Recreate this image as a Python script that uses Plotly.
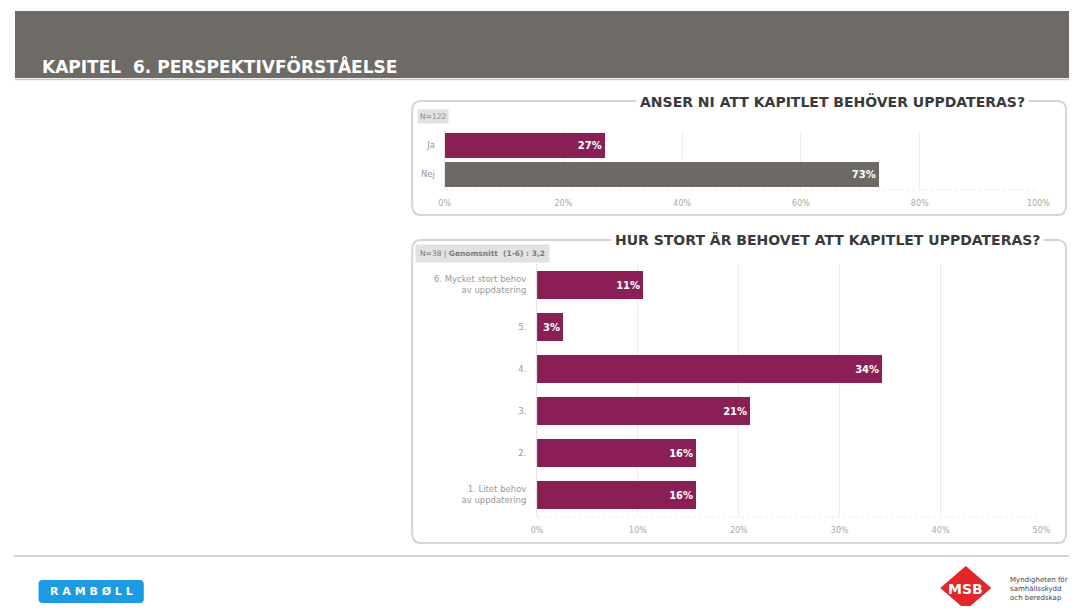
import plotly.graph_objects as go

# page body has an 8px default margin on every side; keep the figure inside the window
OFF = 8
W, H = 1089 - 2 * OFF, 614 - 2 * OFF

# ---- data ----
q1_categories = ["Ja", "Nej"]
q1_values = [27, 73]
q1_labels = ["27%", "73%"]

q2_categories = ["6. Mycket stort behov<br>av uppdatering", "5.", "4.", "3.", "2.",
                 "1. Litet behov<br>av uppdatering"]
q2_values = [10.5, 2.6, 34.2, 21.1, 15.8, 15.8]
q2_labels = ["11%", "3%", "34%", "21%", "16%", "16%"]

x1_ticks = [0, 20, 40, 60, 80, 100]
x1_ticktext = ["0%", "20%", "40%", "60%", "80%", "100%"]
x2_ticks = [0, 10, 20, 30, 40, 50]
x2_ticktext = ["0%", "10%", "20%", "30%", "40%", "50%"]

PURPLE = "#8a1f56"
GREY = "#6d6a65"
FONT = "DejaVu Sans"


def px(x):
    return (x - OFF) / W


def py(y):
    return 1 - (y - OFF) / H


def rounded_rect(x0, y0, x1, y1, r):
    pts = [
        f"M {px(x0 + r)},{py(y0)}",
        f"L {px(x1 - r)},{py(y0)}",
        f"Q {px(x1)},{py(y0)} {px(x1)},{py(y0 + r)}",
        f"L {px(x1)},{py(y1 - r)}",
        f"Q {px(x1)},{py(y1)} {px(x1 - r)},{py(y1)}",
        f"L {px(x0 + r)},{py(y1)}",
        f"Q {px(x0)},{py(y1)} {px(x0)},{py(y1 - r)}",
        f"L {px(x0)},{py(y0 + r)}",
        f"Q {px(x0)},{py(y0)} {px(x0 + r)},{py(y0)}",
        "Z",
    ]
    return " ".join(pts)


fig = go.Figure()

fig.add_trace(go.Bar(
    x=q1_values, y=q1_categories, orientation="h",
    marker=dict(color=[PURPLE, GREY], line=dict(width=0)),
    width=0.83,
    text=q1_labels, textposition="inside", insidetextanchor="end",
    textfont=dict(family=FONT, size=10, color="white", weight="bold"),
    constraintext="none",
    xaxis="x", yaxis="y", hoverinfo="skip",
))

fig.add_trace(go.Bar(
    x=q2_values, y=q2_categories, orientation="h",
    marker=dict(color=PURPLE, line=dict(width=0)),
    width=0.67,
    text=q2_labels, textposition="inside", insidetextanchor="end",
    textfont=dict(family=FONT, size=10, color="white", weight="bold"),
    constraintext="none",
    xaxis="x2", yaxis="y2", hoverinfo="skip",
))

axis_common = dict(
    showgrid=True, gridcolor="#ececec", gridwidth=1,
    zeroline=False, showline=False,
    tickfont=dict(family=FONT, size=8, color="#a8a8a8"),
    ticks="outside", ticklen=6, tickcolor="rgba(0,0,0,0)",
    tickmode="array", fixedrange=True,
)

yaxis_common = dict(
    autorange="reversed", showgrid=False, zeroline=False, showline=True,
    linecolor="#e6e6e6", ticks="outside", tickcolor="rgba(0,0,0,0)",
    tickfont=dict(family=FONT, size=8.5, color="#999999"), fixedrange=True,
)

fig.update_layout(
    width=W, height=H,
    margin=dict(l=0, r=0, t=0, b=0),
    paper_bgcolor="white", plot_bgcolor="rgba(0,0,0,0)",
    showlegend=False,
    bargap=0,
    xaxis=dict(domain=[px(446), px(1050)], range=[0, 100], tickvals=x1_ticks,
               ticktext=x1_ticktext, anchor="y", **axis_common),
    yaxis=dict(domain=[py(189), py(131)], anchor="x", ticklen=7, **yaxis_common),
    xaxis2=dict(domain=[px(540), px(1053)], range=[0, 50], tickvals=x2_ticks,
                ticktext=x2_ticktext, anchor="y2", **axis_common),
    yaxis2=dict(domain=[py(516), py(264)], anchor="x2", ticklen=8, **yaxis_common),
)

RIGHT = OFF + W  # right edge of the figure in page pixels

shapes = []
# header band
shapes.append(dict(type="rect", xref="paper", yref="paper",
                   x0=px(9), x1=px(RIGHT), y0=py(78), y1=py(11),
                   fillcolor="#6e6b66", line=dict(width=0), layer="below"))
shapes.append(dict(type="line", xref="paper", yref="paper",
                   x0=px(9), x1=px(RIGHT), y0=py(79.5), y1=py(79.5),
                   line=dict(color="#c9c8c0", width=1.5), layer="below"))
# chart boxes
shapes.append(dict(type="path", xref="paper", yref="paper",
                   path=rounded_rect(413, 101, 1078, 215, 9),
                   line=dict(color="#d4d4d4", width=2), layer="below"))
shapes.append(dict(type="path", xref="paper", yref="paper",
                   path=rounded_rect(413, 240, 1078, 543, 9),
                   line=dict(color="#d4d4d4", width=2), layer="below"))
# baselines below plots
shapes.append(dict(type="line", xref="paper", yref="paper",
                   x0=px(446), x1=px(1050), y0=py(190), y1=py(190),
                   line=dict(color="#ececec", width=1, dash="dot"), layer="below"))
shapes.append(dict(type="line", xref="paper", yref="paper",
                   x0=px(540), x1=px(1053), y0=py(517), y1=py(517),
                   line=dict(color="#ececec", width=1, dash="dot"), layer="below"))
# footer line
shapes.append(dict(type="line", xref="paper", yref="paper",
                   x0=px(8), x1=px(RIGHT), y0=py(556), y1=py(556),
                   line=dict(color="#c4c4c4", width=1.5), layer="below"))
# Ramboll logo box
shapes.append(dict(type="path", xref="paper", yref="paper",
                   path=rounded_rect(33, 580, 140, 603, 4),
                   fillcolor="#1d9be2", line=dict(width=0), layer="below"))
# MSB logo diamond
msb_cx, msb_cy, msb_r = 976, 588, 22
shapes.append(dict(type="path", xref="paper", yref="paper",
                   path=(f"M {px(msb_cx)},{py(msb_cy - msb_r)} "
                         f"L {px(msb_cx + msb_r + 4)},{py(msb_cy)} "
                         f"L {px(msb_cx)},{py(msb_cy + msb_r)} "
                         f"L {px(msb_cx - msb_r - 4)},{py(msb_cy)} Z"),
                   fillcolor="#e3262a", line=dict(width=0), layer="below"))
fig.update_layout(shapes=shapes)

ann = []
ann.append(dict(text="KAPITEL  6. PERSPEKTIVFÖRSTÅELSE", xref="paper", yref="paper",
                x=px(34), y=py(66), xanchor="left", yanchor="middle", showarrow=False,
                font=dict(family=FONT, size=17, color="white", weight="bold")))
ann.append(dict(text="ANSER NI ATT KAPITLET BEHÖVER UPPDATERAS?", xref="paper", yref="paper",
                x=px(840), y=py(101), xanchor="center", yanchor="middle", showarrow=False,
                bgcolor="white", borderpad=3,
                font=dict(family=FONT, size=14, color="#3a3a3a", weight="bold")))
ann.append(dict(text="HUR STORT ÄR BEHOVET ATT KAPITLET UPPDATERAS?", xref="paper", yref="paper",
                x=px(835), y=py(240), xanchor="center", yanchor="middle", showarrow=False,
                bgcolor="white", borderpad=3,
                font=dict(family=FONT, size=14, color="#3a3a3a", weight="bold")))
ann.append(dict(text="N=122", xref="paper", yref="paper",
                x=px(418), y=py(116.5), xanchor="left", yanchor="middle", showarrow=False,
                bgcolor="#e2e2e2", borderpad=2,
                font=dict(family=FONT, size=7.5, color="#8a8a8a")))
ann.append(dict(text="N=38 | <b>Genomsnitt  (1-6) : 3,2</b>", xref="paper", yref="paper",
                x=px(416), y=py(253), xanchor="left", yanchor="middle", showarrow=False,
                bgcolor="#e2e2e2", borderpad=4,
                font=dict(family=FONT, size=7.5, color="#7a7a7a")))
ann.append(dict(text="R A M B Ø L L", xref="paper", yref="paper",
                x=px(86.5), y=py(591.5), xanchor="center", yanchor="middle", showarrow=False,
                font=dict(family=FONT, size=11, color="white", weight="bold")))
ann.append(dict(text="MSB", xref="paper", yref="paper",
                x=px(976), y=py(589), xanchor="center", yanchor="middle", showarrow=False,
                font=dict(family=FONT, size=14, color="white", weight="bold")))
ann.append(dict(text="Myndigheten för<br>samhällsskydd<br>och beredskap", xref="paper", yref="paper",
                x=px(1019), y=py(589), xanchor="left", yanchor="middle", showarrow=False,
                align="left",
                font=dict(family=FONT, size=7, color="#444444")))
fig.update_layout(annotations=ann)

fig.write_html("out.html")
